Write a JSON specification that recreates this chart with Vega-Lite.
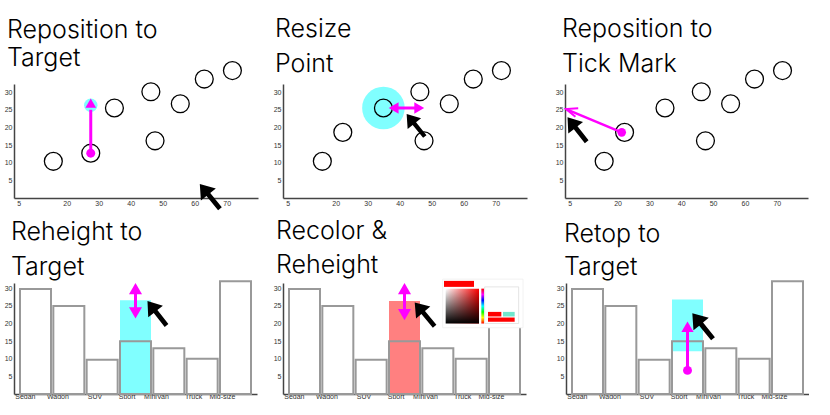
{
  "$schema": "https://vega.github.io/schema/vega-lite/v6.json",
  "background": "white",
  "padding": {"left": 4, "top": 17, "right": 0, "bottom": 0},
  "spacing": 7,
  "config": {
    "view": {"stroke": null},
    "axis": {"grid": false, "ticks": false, "domainColor": "#444", "domainWidth": 1.5, "labelFont": "Liberation Sans", "labelFontSize": 7, "labelColor": "#333", "labelOverlap": false},
    "title": {"font": "Inter", "fontWeight": 300, "fontSize": 25, "anchor": "start", "color": "black", "frame": "group"}
  },
  "datasets": {
    "pts": [
      {"x": 15.8, "y": 10.4}, {"x": 22.2, "y": 18.6}, {"x": 34.9, "y": 25.5}, {"x": 46.3, "y": 30.1},
      {"x": 47.6, "y": 16.2}, {"x": 55.5, "y": 26.7}, {"x": 63.0, "y": 33.7}, {"x": 71.8, "y": 36.1}
    ],
    "pts1": [
      {"x": 15.8, "y": 10.4}, {"x": 27.5, "y": 12.7}, {"x": 34.9, "y": 25.5}, {"x": 46.3, "y": 30.1},
      {"x": 47.6, "y": 16.2}, {"x": 55.5, "y": 26.7}, {"x": 63.0, "y": 33.7}, {"x": 71.8, "y": 36.1}
    ],
    "bars": [
      {"type": "Sedan", "value": 29.8}, {"type": "Wagon", "value": 25}, {"type": "SUV", "value": 9.7},
      {"type": "Sport", "value": 15}, {"type": "MiniVan", "value": 13}, {"type": "Truck", "value": 10},
      {"type": "Mid-size", "value": 32}
    ]
  },
  "vconcat": [
    {
      "spacing": 28,
      "hconcat": [
        {
          "spacing": 15,
          "hconcat": [
            {
              "width": 244, "height": 114,
              "title": {"text": ["Reposition to", "Target"], "lineHeight": 28, "dx": -7, "offset": -12},
              "layer": [
                {"data": {"values": [{"x": 27.5, "y": 26.3}]}, "mark": {"type": "point", "shape": "circle", "filled": true, "color": "#80ffff", "size": 180, "opacity": 1},
                 "encoding": {"x": {"field": "x", "type": "quantitative", "title": null}, "y": {"field": "y", "type": "quantitative", "title": null}}},
                {"data": {"name": "pts1"}, "mark": {"type": "point", "shape": "circle", "filled": false, "stroke": "black", "strokeWidth": 1.3, "size": 320, "opacity": 1},
                 "encoding": {
                   "x": {"field": "x", "type": "quantitative", "title": null, "scale": {"domain": [3.5, 79.8], "nice": false, "zero": false}, "axis": {"values": [5, 20, 30, 40, 50, 60, 70], "tickCount": 20, "labelPadding": 1, "labelOverlap": false}},
                   "y": {"field": "y", "type": "quantitative", "title": null, "scale": {"domain": [0, 32.3], "nice": false, "zero": false}, "axis": {"values": [5, 10, 15, 20, 25, 30], "tickCount": 20, "labelPadding": 2, "labelOverlap": false}}}},
                {"data": {"values": [{"x": 27.5, "y": 12.7, "y2": 25}]}, "mark": {"type": "rule", "color": "#ff00ff", "strokeWidth": 3},
                 "encoding": {"x": {"field": "x", "type": "quantitative", "title": null}, "y": {"field": "y", "type": "quantitative", "title": null}, "y2": {"field": "y2"}}},
                {"data": {"values": [{"x": 27.5, "y": 26.9}]}, "mark": {"type": "point", "shape": "triangle-up", "filled": true, "color": "#ff00ff", "size": 115, "opacity": 1},
                 "encoding": {"x": {"field": "x", "type": "quantitative", "title": null}, "y": {"field": "y", "type": "quantitative", "title": null}}},
                {"data": {"values": [{"x": 27.5, "y": 12.7}]}, "mark": {"type": "point", "shape": "circle", "filled": true, "color": "#ff00ff", "size": 80, "opacity": 1},
                 "encoding": {"x": {"field": "x", "type": "quantitative", "title": null}, "y": {"field": "y", "type": "quantitative", "title": null}}},
                {"data": {"values": [{"x": 64.75, "y": 0.45}]}, "mark": {"type": "point", "shape": "M0,-1L0.6,-0.15L0.15,-0.15L0.15,1L-0.15,1L-0.15,-0.15L-0.6,-0.15Z", "filled": true, "color": "black", "size": 1024, "angle": -39, "opacity": 1},
                 "encoding": {"x": {"field": "x", "type": "quantitative", "title": null}, "y": {"field": "y", "type": "quantitative", "title": null}}}
              ]
            },
            {
              "width": 244, "height": 114,
              "title": {"text": ["Resize", "Point"], "lineHeight": 35, "dx": -8, "offset": -18},
              "layer": [
                {"data": {"values": [{"x": 34.9, "y": 25.5}]}, "mark": {"type": "point", "shape": "circle", "filled": true, "color": "#80ffff", "size": 1810, "opacity": 1},
                 "encoding": {"x": {"field": "x", "type": "quantitative", "title": null}, "y": {"field": "y", "type": "quantitative", "title": null}}},
                {"data": {"name": "pts"}, "mark": {"type": "point", "shape": "circle", "filled": false, "stroke": "black", "strokeWidth": 1.3, "size": 320, "opacity": 1},
                 "encoding": {
                   "x": {"field": "x", "type": "quantitative", "title": null, "scale": {"domain": [3.5, 79.8], "nice": false, "zero": false}, "axis": {"values": [5, 20, 30, 40, 50, 60, 70], "tickCount": 20, "labelPadding": 1, "labelOverlap": false}},
                   "y": {"field": "y", "type": "quantitative", "title": null, "scale": {"domain": [0, 32.3], "nice": false, "zero": false}, "axis": {"values": [5, 10, 15, 20, 25, 30], "tickCount": 20, "labelPadding": 2, "labelOverlap": false}}}},
                {"data": {"values": [{"x": 38.1, "x2": 46.1, "y": 25.5}]}, "mark": {"type": "rule", "color": "#ff00ff", "strokeWidth": 3},
                 "encoding": {"x": {"field": "x", "type": "quantitative", "title": null}, "x2": {"field": "x2"}, "y": {"field": "y", "type": "quantitative", "title": null}}},
                {"data": {"values": [{"x": 38.1, "y": 25.5}]}, "mark": {"type": "point", "shape": "triangle-left", "filled": true, "color": "#ff00ff", "size": 130, "opacity": 1},
                 "encoding": {"x": {"field": "x", "type": "quantitative", "title": null}, "y": {"field": "y", "type": "quantitative", "title": null}}},
                {"data": {"values": [{"x": 46.1, "y": 25.5}]}, "mark": {"type": "point", "shape": "triangle-right", "filled": true, "color": "#ff00ff", "size": 130, "opacity": 1},
                 "encoding": {"x": {"field": "x", "type": "quantitative", "title": null}, "y": {"field": "y", "type": "quantitative", "title": null}}},
                {"data": {"values": [{"x": 45.0, "y": 20.6}]}, "mark": {"type": "point", "shape": "M0,-1L0.6,-0.15L0.15,-0.15L0.15,1L-0.15,1L-0.15,-0.15L-0.6,-0.15Z", "filled": true, "color": "black", "size": 830, "angle": -39, "opacity": 1},
                 "encoding": {"x": {"field": "x", "type": "quantitative", "title": null}, "y": {"field": "y", "type": "quantitative", "title": null}}}
              ]
            }
          ]
        },
        {
          "width": 243, "height": 114,
          "title": {"text": ["Reposition to", "Tick Mark"], "lineHeight": 35, "dx": -3, "offset": -18},
          "layer": [
            {"data": {"name": "pts"}, "mark": {"type": "point", "shape": "circle", "filled": false, "stroke": "black", "strokeWidth": 1.3, "size": 320, "opacity": 1},
             "encoding": {
               "x": {"field": "x", "type": "quantitative", "title": null, "scale": {"domain": [3.5, 79.8], "nice": false, "zero": false}, "axis": {"values": [5, 20, 30, 40, 50, 60, 70], "tickCount": 20, "labelPadding": 1, "labelOverlap": false}},
               "y": {"field": "y", "type": "quantitative", "title": null, "scale": {"domain": [0, 32.3], "nice": false, "zero": false}, "axis": {"values": [5, 10, 15, 20, 25, 30], "tickCount": 20, "labelPadding": 2, "labelOverlap": false}}}},
            {"data": {"values": [{"x": 21.3, "y": 18.6, "x2": 4.0, "y2": 25.1}]}, "mark": {"type": "rule", "color": "#ff00ff", "strokeWidth": 2.5},
             "encoding": {"x": {"field": "x", "type": "quantitative", "title": null}, "y": {"field": "y", "type": "quantitative", "title": null}, "x2": {"field": "x2"}, "y2": {"field": "y2"}}},
            {"data": {"values": [{"x": 5.6, "y": 24.7}]}, "mark": {"type": "point", "shape": "M0.9,-0.75L-1,0L0.9,0.75", "filled": false, "color": "#ff00ff", "strokeWidth": 2, "size": 144, "angle": 18, "opacity": 1},
             "encoding": {"x": {"field": "x", "type": "quantitative", "title": null}, "y": {"field": "y", "type": "quantitative", "title": null}}},
            {"data": {"values": [{"x": 21.3, "y": 18.6}]}, "mark": {"type": "point", "shape": "circle", "filled": true, "color": "#ff00ff", "size": 75, "opacity": 1},
             "encoding": {"x": {"field": "x", "type": "quantitative", "title": null}, "y": {"field": "y", "type": "quantitative", "title": null}}},
            {"data": {"values": [{"x": 7.3, "y": 19.4}]}, "mark": {"type": "point", "shape": "M0,-1L0.6,-0.15L0.15,-0.15L0.15,1L-0.15,1L-0.15,-0.15L-0.6,-0.15Z", "filled": true, "color": "black", "size": 970, "angle": -38, "opacity": 1},
             "encoding": {"x": {"field": "x", "type": "quantitative", "title": null}, "y": {"field": "y", "type": "quantitative", "title": null}}}
          ]
        }
      ]
    },
    {
      "spacing": 30,
      "hconcat": [
        {
          "spacing": 16,
          "hconcat": [
            {
              "width": 243, "height": 111,
              "title": {"text": ["Reheight to", "Target"], "lineHeight": 35, "dx": -3, "offset": 0},
              "resolve": {"scale": {"x": "independent"}},
              "layer": [
                {"layer": [
                  {"data": {"values": [{"type": "Sport", "value": 26.6}]}, "mark": {"type": "bar", "color": "#80ffff"},
                   "encoding": {"x": {"field": "type", "type": "nominal", "title": null}, "y": {"field": "value", "type": "quantitative", "title": null}}},
                  {"data": {"name": "bars"}, "mark": {"type": "bar", "fill": "white", "fillOpacity": 0, "stroke": "#999", "strokeWidth": 2},
                   "encoding": {
                     "x": {"field": "type", "type": "nominal", "title": null, "scale": {"domain": ["Sedan", "Wagon", "SUV", "Sport", "MiniVan", "Truck", "Mid-size"], "paddingInner": 0.07, "paddingOuter": 0.18}, "axis": {"labelAngle": 0, "labelPadding": 2, "labelOverlap": false}},
                     "y": {"field": "value", "type": "quantitative", "title": null, "scale": {"domain": [0, 31.5], "nice": false, "zero": false}, "axis": {"values": [5, 10, 15, 20, 25, 30], "tickCount": 20, "labelPadding": 2, "labelOverlap": false}}}},
                  {"data": {"values": [{"type": "Sport", "value": 23.0, "value2": 29.9}]}, "mark": {"type": "rule", "color": "#ff00ff", "strokeWidth": 3},
                   "encoding": {"x": {"field": "type", "type": "nominal", "title": null}, "y": {"field": "value", "type": "quantitative", "title": null}, "y2": {"field": "value2"}}},
                  {"data": {"values": [{"type": "Sport", "value": 29.9}]}, "mark": {"type": "point", "shape": "triangle-up", "filled": true, "color": "#ff00ff", "size": 170, "opacity": 1},
                   "encoding": {"x": {"field": "type", "type": "nominal", "title": null}, "y": {"field": "value", "type": "quantitative", "title": null}}},
                  {"data": {"values": [{"type": "Sport", "value": 23.0}]}, "mark": {"type": "point", "shape": "triangle-down", "filled": true, "color": "#ff00ff", "size": 170, "opacity": 1},
                   "encoding": {"x": {"field": "type", "type": "nominal", "title": null}, "y": {"field": "value", "type": "quantitative", "title": null}}}
                ]},
                {"layer": [
                  {"data": {"values": [{"u": 4.29, "value": 22.9}]}, "mark": {"type": "point", "shape": "M0,-1L0.6,-0.15L0.15,-0.15L0.15,1L-0.15,1L-0.15,-0.15L-0.6,-0.15Z", "filled": true, "color": "black", "size": 960, "angle": -38, "opacity": 1},
                   "encoding": {"x": {"field": "u", "type": "quantitative", "title": null, "scale": {"domain": [0, 7.29], "nice": false, "zero": false}, "axis": null}, "y": {"field": "value", "type": "quantitative", "title": null}}}
                ]}
              ]
            },
            {
              "width": 243, "height": 111,
              "title": {"text": ["Recolor &", "Reheight"], "lineHeight": 34, "dx": -7, "offset": 1},
              "resolve": {"scale": {"x": "independent"}},
              "layer": [
                {"layer": [
                  {"data": {"values": [{"type": "Sport", "value": 26.4}]}, "mark": {"type": "bar", "color": "#ff8080"},
                   "encoding": {"x": {"field": "type", "type": "nominal", "title": null}, "y": {"field": "value", "type": "quantitative", "title": null}}},
                  {"data": {"name": "bars"}, "mark": {"type": "bar", "fill": "white", "fillOpacity": 0, "stroke": "#999", "strokeWidth": 2},
                   "encoding": {
                     "x": {"field": "type", "type": "nominal", "title": null, "scale": {"domain": ["Sedan", "Wagon", "SUV", "Sport", "MiniVan", "Truck", "Mid-size"], "paddingInner": 0.07, "paddingOuter": 0.18}, "axis": {"labelAngle": 0, "labelPadding": 2, "labelOverlap": false}},
                     "y": {"field": "value", "type": "quantitative", "title": null, "scale": {"domain": [0, 31.5], "nice": false, "zero": false}, "axis": {"values": [5, 10, 15, 20, 25, 30], "tickCount": 20, "labelPadding": 2, "labelOverlap": false}}}},
                  {"data": {"values": [{"type": "Sport", "value": 22.5, "value2": 29.9}]}, "mark": {"type": "rule", "color": "#ff00ff", "strokeWidth": 3},
                   "encoding": {"x": {"field": "type", "type": "nominal", "title": null}, "y": {"field": "value", "type": "quantitative", "title": null}, "y2": {"field": "value2"}}},
                  {"data": {"values": [{"type": "Sport", "value": 29.9}]}, "mark": {"type": "point", "shape": "triangle-up", "filled": true, "color": "#ff00ff", "size": 170, "opacity": 1},
                   "encoding": {"x": {"field": "type", "type": "nominal", "title": null}, "y": {"field": "value", "type": "quantitative", "title": null}}},
                  {"data": {"values": [{"type": "Sport", "value": 22.5}]}, "mark": {"type": "point", "shape": "triangle-down", "filled": true, "color": "#ff00ff", "size": 170, "opacity": 1},
                   "encoding": {"x": {"field": "type", "type": "nominal", "title": null}, "y": {"field": "value", "type": "quantitative", "title": null}}}
                ]},
                {"layer": [
                  {"data": {"values": [{"u": 4.79, "u2": 7.2, "value": 18.8, "value2": 32.6}]}, "mark": {"type": "rect", "fill": "white", "stroke": "#f2f2f2", "strokeWidth": 1},
                   "encoding": {"x": {"field": "u", "type": "quantitative", "title": null, "scale": {"domain": [0, 7.29], "nice": false, "zero": false}, "axis": null}, "x2": {"field": "u2"}, "y": {"field": "value", "type": "quantitative", "title": null}, "y2": {"field": "value2"}}},
                  {"data": {"values": [{"u": 4.83, "u2": 5.73, "value": 30.4, "value2": 32.1}]}, "mark": {"type": "rect", "fill": "#ff0000"},
                   "encoding": {"x": {"field": "u", "type": "quantitative", "title": null}, "x2": {"field": "u2"}, "y": {"field": "value", "type": "quantitative", "title": null}, "y2": {"field": "value2"}}},
                  {"data": {"values": [{"u": 4.88, "u2": 5.88, "value": 20.0, "value2": 29.9}]}, "mark": {"type": "rect", "fill": {"gradient": "linear", "x1": 0, "y1": 0, "x2": 1, "y2": 0, "stops": [{"offset": 0, "color": "#ffffff"}, {"offset": 1, "color": "#ff0000"}]}},
                   "encoding": {"x": {"field": "u", "type": "quantitative", "title": null}, "x2": {"field": "u2"}, "y": {"field": "value", "type": "quantitative", "title": null}, "y2": {"field": "value2"}}},
                  {"data": {"values": [{"u": 4.88, "u2": 5.88, "value": 20.0, "value2": 29.9}]}, "mark": {"type": "rect", "fill": {"gradient": "linear", "x1": 0, "y1": 0, "x2": 0, "y2": 1, "stops": [{"offset": 0, "color": "rgba(0,0,0,0)"}, {"offset": 1, "color": "#000000"}]}},
                   "encoding": {"x": {"field": "u", "type": "quantitative", "title": null}, "x2": {"field": "u2"}, "y": {"field": "value", "type": "quantitative", "title": null}, "y2": {"field": "value2"}}},
                  {"data": {"values": [{"u": 5.95, "u2": 6.03, "value": 20.0, "value2": 29.9}]}, "mark": {"type": "rect", "fill": {"gradient": "linear", "x1": 0, "y1": 0, "x2": 0, "y2": 1, "stops": [{"offset": 0, "color": "#ff0000"}, {"offset": 0.17, "color": "#ff00ff"}, {"offset": 0.33, "color": "#0000ff"}, {"offset": 0.5, "color": "#00ffff"}, {"offset": 0.67, "color": "#00ff00"}, {"offset": 0.83, "color": "#ffff00"}, {"offset": 1, "color": "#ff0000"}]}},
                   "encoding": {"x": {"field": "u", "type": "quantitative", "title": null}, "x2": {"field": "u2"}, "y": {"field": "value", "type": "quantitative", "title": null}, "y2": {"field": "value2"}}},
                  {"data": {"values": [{"u": 6.05, "u2": 7.07, "value": 20.0, "value2": 30.4}]}, "mark": {"type": "rect", "fill": "white", "stroke": "#dddddd", "strokeWidth": 0.8},
                   "encoding": {"x": {"field": "u", "type": "quantitative", "title": null}, "x2": {"field": "u2"}, "y": {"field": "value", "type": "quantitative", "title": null}, "y2": {"field": "value2"}}},
                  {"data": {"values": [{"u": 6.15, "u2": 6.55, "value": 22.0, "value2": 23.3}, {"u": 6.15, "u2": 6.95, "value": 20.5, "value2": 21.7}]}, "mark": {"type": "rect", "fill": "#ff0000"},
                   "encoding": {"x": {"field": "u", "type": "quantitative", "title": null}, "x2": {"field": "u2"}, "y": {"field": "value", "type": "quantitative", "title": null}, "y2": {"field": "value2"}}},
                  {"data": {"values": [{"u": 6.6, "u2": 6.95, "value": 22.0, "value2": 23.3}]}, "mark": {"type": "rect", "fill": "#70e6cc"},
                   "encoding": {"x": {"field": "u", "type": "quantitative", "title": null}, "x2": {"field": "u2"}, "y": {"field": "value", "type": "quantitative", "title": null}, "y2": {"field": "value2"}}},
                  {"data": {"values": [{"u": 4.25, "value": 22.6}]}, "mark": {"type": "point", "shape": "M0,-1L0.6,-0.15L0.15,-0.15L0.15,1L-0.15,1L-0.15,-0.15L-0.6,-0.15Z", "filled": true, "color": "black", "size": 960, "angle": -40, "opacity": 1},
                   "encoding": {"x": {"field": "u", "type": "quantitative", "title": null}, "y": {"field": "value", "type": "quantitative", "title": null}}}
                ]}
              ]
            }
          ]
        },
        {
          "width": 243, "height": 111,
          "title": {"text": ["Retop to", "Target"], "lineHeight": 33, "dx": -2, "offset": 0},
          "resolve": {"scale": {"x": "independent"}},
          "layer": [
            {"layer": [
              {"data": {"values": [{"type": "Sport", "value": 26.8, "value2": 12.1}]}, "mark": {"type": "bar", "color": "#80ffff"},
               "encoding": {"x": {"field": "type", "type": "nominal", "title": null}, "y": {"field": "value", "type": "quantitative", "title": null}, "y2": {"field": "value2"}}},
              {"data": {"name": "bars"}, "mark": {"type": "bar", "fill": "white", "fillOpacity": 0, "stroke": "#999", "strokeWidth": 2},
               "encoding": {
                 "x": {"field": "type", "type": "nominal", "title": null, "scale": {"domain": ["Sedan", "Wagon", "SUV", "Sport", "MiniVan", "Truck", "Mid-size"], "paddingInner": 0.07, "paddingOuter": 0.18}, "axis": {"labelAngle": 0, "labelPadding": 2, "labelOverlap": false}},
                 "y": {"field": "value", "type": "quantitative", "title": null, "scale": {"domain": [0, 31.5], "nice": false, "zero": false}, "axis": {"values": [5, 10, 15, 20, 25, 30], "tickCount": 20, "labelPadding": 2, "labelOverlap": false}}}},
              {"data": {"values": [{"type": "Sport", "value": 6.7, "value2": 19.0}]}, "mark": {"type": "rule", "color": "#ff00ff", "strokeWidth": 3},
               "encoding": {"x": {"field": "type", "type": "nominal", "title": null}, "y": {"field": "value", "type": "quantitative", "title": null}, "y2": {"field": "value2"}}},
              {"data": {"values": [{"type": "Sport", "value": 19.1}]}, "mark": {"type": "point", "shape": "triangle-up", "filled": true, "color": "#ff00ff", "size": 150, "opacity": 1},
               "encoding": {"x": {"field": "type", "type": "nominal", "title": null}, "y": {"field": "value", "type": "quantitative", "title": null}}},
              {"data": {"values": [{"type": "Sport", "value": 6.7}]}, "mark": {"type": "point", "shape": "circle", "filled": true, "color": "#ff00ff", "size": 80, "opacity": 1},
               "encoding": {"x": {"field": "type", "type": "nominal", "title": null}, "y": {"field": "value", "type": "quantitative", "title": null}}}
            ]},
            {"layer": [
              {"data": {"values": [{"u": 4.10, "value": 19.3}]}, "mark": {"type": "point", "shape": "M0,-1L0.6,-0.15L0.15,-0.15L0.15,1L-0.15,1L-0.15,-0.15L-0.6,-0.15Z", "filled": true, "color": "black", "size": 1080, "angle": -39, "opacity": 1},
               "encoding": {"x": {"field": "u", "type": "quantitative", "title": null, "scale": {"domain": [0, 7.29], "nice": false, "zero": false}, "axis": null}, "y": {"field": "value", "type": "quantitative", "title": null}}}
            ]}
          ]
        }
      ]
    }
  ]
}
